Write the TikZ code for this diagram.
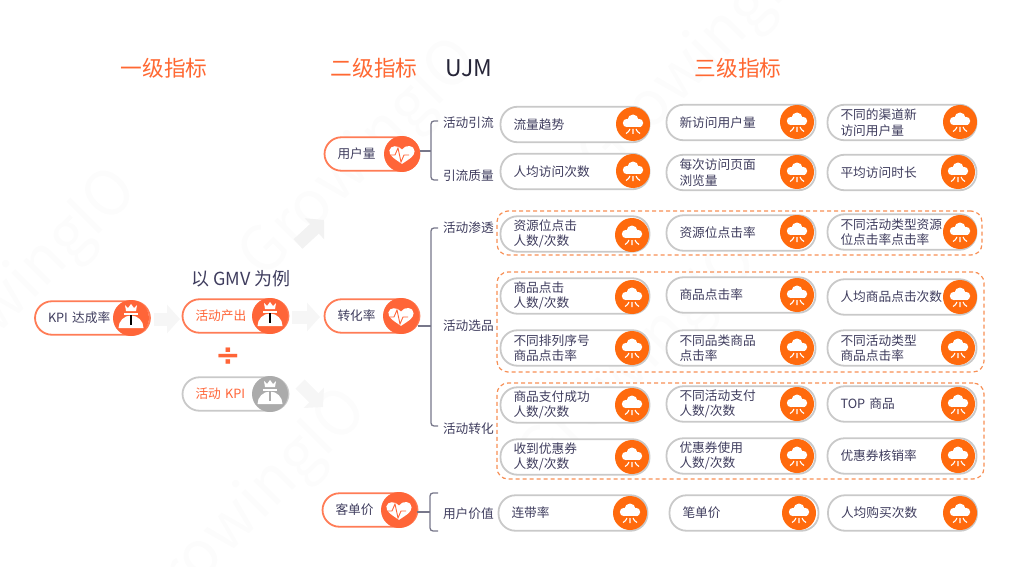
\documentclass[tikz,border=0pt]{standalone}
\usepackage{fontspec}
\setmainfont{Noto Sans CJK SC}
\newfontfamily\symfont{DejaVu Sans}
\usetikzlibrary{arrows.meta}
\definecolor{ink}{HTML}{3F3D5E}
\definecolor{coral}{HTML}{FF6538}
\definecolor{tangerine}{HTML}{FF6A0D}
\definecolor{pillgray}{HTML}{C9C9C9}
\definecolor{stem}{HTML}{77778A}
\definecolor{dash}{HTML}{F78F55}
\definecolor{mute}{HTML}{ABABAB}
\begin{document}
\begin{tikzpicture}[x=1pt,y=-1pt]
    \tikzstyle{every node}=[font=\fontsize{12.7}{15.5}\selectfont, text=ink]
    \tikzset{
        pill/.style={draw=pillgray, line width=1.8pt, fill=white, rounded corners=17pt, minimum height=35.5pt, inner xsep=13pt, inner ysep=0pt, align=left},
        leaf/.style={pill, minimum width=149pt, text width=123pt},
        kpipill/.style={pill, draw=coral!85, minimum height=33.5pt, text width=#1},
        badge/.style={circle, fill=#1, minimum size=34pt, inner sep=0pt},
        kpibadge/.style={badge=#1, minimum size=36pt},
        head/.style={font=\fontsize{21.7}{24}\selectfont, text=coral!90!orange},
        stage/.style={inner sep=0pt, outer sep=5pt},
        branch/.style={draw=stem, line width=1.3pt, rounded corners=3pt},
        group/.style={draw=dash, dashed, dash pattern=on 4pt off 3pt, line width=1.2pt, rounded corners=11pt, inner sep=0pt},
        hint/.style={draw=black!#1, line width=13pt, -{Triangle[width=28pt, length=13pt]}},
        hint/.default=3.5,
        cloud/.pic={
            \fill[white] (-6,-1) circle (4.2) (0,-4) circle (5.5) (6,-1) circle (4.2);
            \fill[white] (-7.5,-1) rectangle (7.5,3);
            \draw[white, line width=1.1pt] (0,5) -- (0,10) (-3,5) to[bend left=20] (-7,9.5) (3,5) to[bend right=20] (7,9.5);
        },
        crown/.pic={
            \fill[white] (-6,-13) -- (-3,-10) -- (0,-14) -- (3,-10) -- (6,-13) -- (5,-7) -- (-5,-7) -- cycle;
            \fill[white] (-7,-5.5) rectangle (7,-3.5);
            \fill[white] (-12.5,10) arc (180:360:12.5 and 12.5) -- cycle;
            \draw[#1, line width=1.4pt] (0,-3) -- (0,7);
        },
        crown/.default=coral,
        heartbeat/.pic={
            \fill[white, scale=.9] (0,11) .. controls (-7,6) and (-15,2) .. (-14,-4) .. controls (-13,-10) and (-4,-10) .. (0,-5) .. controls (4,-11) and (14,-10) .. (14,-3) .. controls (14,3) and (7,6) .. (0,11);
            \draw[coral, line width=.9pt] (-12,1) -- (-7,1) -- (-4,-6) -- (-1,8) -- (2,1) -- (7,1);
        }
    }

    \useasboundingbox (0,0) rectangle (1009,567);

    %watermark
    \foreach \wx/\wy in {20/290, 361/160, 250/510, 700/60, 640/360}
        \node[rotate=45, font=\fontsize{62}{64}\selectfont, text=black!1.3] (mark\wx) at (\wx,\wy) {GrowingIO};

    %headings
    \node (level1) [head] at (164,68) {一级指标};
    \node (level2) [head] at (374,68) {二级指标};
    \node (ujm) [font=\fontsize{23}{26}\selectfont, text=ink!60!black] at (469,68) {UJM};
    \node (level3) [head] at (738,68) {三级指标};
    \node (example) [font=\fontsize{18}{20}\selectfont] at (241,279) {以 GMV 为例};

    %kpi
    \node (kpi) [kpipill=89pt] at (92.5,318) {KPI 达成率};
    \node (kpib) [kpibadge=coral] at (131,318) {};
    \pic at (kpib) {crown};
    \node (output) [kpipill=80pt, text=coral] at (235.5,316) {活动产出};
    \node (outputb) [kpibadge=coral] at (270,316) {};
    \pic at (outputb) {crown};
    \node (divide) [text=coral, font=\symfont\fontsize{30}{30}\bfseries] at (228,357) {÷};
    \node (target) [kpipill=80pt, draw=pillgray, text=coral] at (235.5,394) {活动 KPI};
    \node (targetb) [kpibadge=mute] at (270,394) {};
    \pic at (targetb) {crown=mute};

    %second level
    \node (users) [kpipill=69pt] at (372,154) {用户量};
    \node (usersb) [kpibadge=coral] at (402,154) {};
    \pic at (usersb) {heartbeat};
    \node (conv) [kpipill=69pt] at (372,316) {转化率};
    \node (convb) [kpibadge=coral] at (401,316) {};
    \pic at (convb) {heartbeat};
    \node (price) [kpipill=69pt] at (370,510) {客单价};
    \node (priceb) [kpibadge=coral] at (399,510) {};
    \pic at (priceb) {heartbeat};

    %flow arrows
    \coordinate (hintA) at (154,319);
    \coordinate (hintB) at (180,319);
    \coordinate (hintC) at (292,317);
    \coordinate (hintD) at (320,317);
    \coordinate (hintE) at (300,384);
    \coordinate (hintF) at (323,407);
    \coordinate (hintG) at (298,244);
    \coordinate (hintH) at (324,220);
    \draw[hint] (hintA) -- (hintB);
    \draw[hint] (hintC) -- (hintD);
    \draw[hint] (hintE) -- (hintF);
    \draw[hint=5] (hintG) -- (hintH);

    %ujm
    \foreach \nm/\y/\txt in {uA/123/活动引流, uB/176/引流质量, uC/228/活动渗透, uD/326/活动选品, uE/429/活动转化, uF/514/用户价值}
        \node (\nm) [stage, anchor=west] at (438,\y) {\txt};

    %dashed groups
    \node (groupA) [group, minimum width=485pt, minimum height=44pt] at (739.5,233) {};
    \node (groupB) [group, minimum width=487pt, minimum height=100pt] at (740.5,322) {};
    \node (groupC) [group, minimum width=487pt, minimum height=96pt] at (740.5,431) {};

    %third level
    \foreach \nm/\x/\y/\bx/\by/\txt in {
        a1/575/124.5/633/124/流量趋势, a2/741/122.5/797/122/新访问用户量, a3/902/122.5/960/122/{不同的渠道新\\访问用户量},
        b1/575/171.5/633/171/人均访问次数, b2/741/172.5/797/172/{每次访问页面\\浏览量}, b3/902/172.5/958/172/平均访问时长,
        c1/575/234/632/235/{资源位点击\\人数/次数}, c2/741/233/797/232/资源位点击率, c3/902/232/960/232/{不同活动类型资源\\位点击率点击率},
        d1/575/296/632/297/{商品点击\\人数/次数}, d2/741/295/797/295/商品点击率, d3/902/297/960/297/人均商品点击次数,
        e1/575/348/632/348/{不同排列序号\\商品点击率}, e2/741/348/797/348/{不同品类商品\\点击率}, e3/902/348/958/348/{不同活动类型\\商品点击率},
        f1/575/405/632/405/{商品支付成功\\人数/次数}, f2/741/404/797/404/{不同活动支付\\人数/次数}, f3/902/404/958/404/TOP 商品,
        g1/575/457/632/457/{收到优惠券\\人数/次数}, g2/741/456/797/456/{优惠券使用\\人数/次数}, g3/902/456/958/456/优惠券核销率,
        h1/573/513/630/513/连带率, h2/744/513/799/513/笔单价, h3/902.5/513/960/513/人均购买次数}
    {
        \node (\nm) [leaf] at (\x,\y) {\txt};
        \node (\nm b) [badge=tangerine] at (\bx,\by) {};
        \pic at (\nm b) {cloud};
    }

    %brackets
    \coordinate (forkA) at (431,151);
    \coordinate (stubA) at (438,121);
    \coordinate (stubB) at (438,180);
    \draw[branch] (usersb.east |- forkA) -- (forkA);
    \draw[branch] (stubA) -| (forkA) |- (stubB);

    \coordinate (forkB) at (431,326);
    \coordinate (stemB) at (418,326);
    \coordinate (stubC) at (438,228);
    \coordinate (stubE) at (438,426);
    \draw[branch] (stemB) -- (forkB);
    \draw[branch] (stubC) -| (forkB) |- (stubE);

    \coordinate (forkC) at (430,512);
    \coordinate (stemC) at (417,512);
    \coordinate (capT) at (438,493);
    \coordinate (capB) at (438,531);
    \draw[branch] (stemC) -- (forkC);
    \draw[branch] (capT) -| (forkC) |- (capB);
\end{tikzpicture}
\end{document}
